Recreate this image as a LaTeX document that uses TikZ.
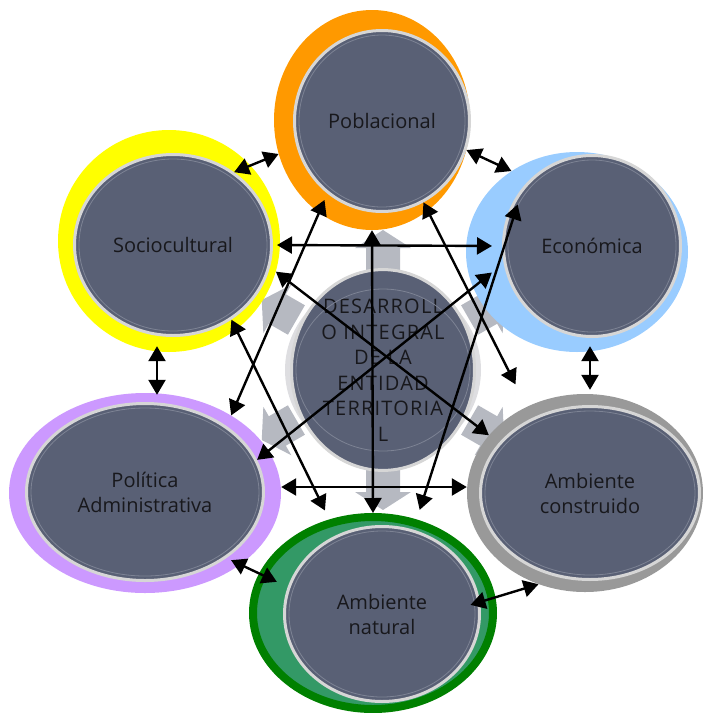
\documentclass[tikz,border=0pt]{standalone}
\usepackage{fontspec}
\setmainfont{Open Sans}
\newfontfamily\spacedfont{Open Sans}[LetterSpace=6]
\usetikzlibrary{positioning}
\usetikzlibrary{arrows.meta,shapes.geometric,calc}
\definecolor{slate}{HTML}{596075}
\definecolor{ringgray}{HTML}{D6D6D6}
\definecolor{thinline}{HTML}{7D8394}
\definecolor{halo}{HTML}{DEDEE1}
\definecolor{blockgray}{HTML}{B6B9C1}
\definecolor{txt}{HTML}{18181C}
\definecolor{orangeA}{HTML}{FF9900}
\definecolor{yellowA}{HTML}{FFFF00}
\definecolor{blueA}{HTML}{99CCFF}
\definecolor{purpleA}{HTML}{CC99FF}
\definecolor{grayA}{HTML}{999999}
\definecolor{greenA}{HTML}{339966}
\definecolor{greenB}{HTML}{008000}
\tikzset{
    >={Triangle[length=15pt,width=17pt]}, % solid triangular heads
    back/.style={ellipse, inner sep=0pt},
    area/.style={ellipse, inner sep=0pt, fill=slate, draw=ringgray, line width=3pt,
        align=center, text=txt, font=\fontsize{20}{25}\selectfont},
    inring/.style={draw=thinline, line width=0.8pt},
    link/.style={<->, line width=2.4pt},
}

\begin{document}
\begin{tikzpicture}[x=1pt,y=-1pt]
\useasboundingbox (0,0) rectangle (703,713);
% grey radial block arrows behind everything
\foreach \a in {30,90,150,210,270,330}
  \fill[blockgray, shift={(383,370)}, rotate=\a]
    (100,-17) -- (122,-17) -- (122,-28) -- (140,0) -- (122,28) -- (122,17) -- (100,17) -- cycle;
% coloured backs
\node[back, fill=orangeA, minimum width=196pt, minimum height=220pt] (pobbg) at (372,120) {};
\node[back, fill=yellowA, minimum width=222pt, minimum height=222pt] (socbg) at (169,241) {};
\node[back, fill=blueA, minimum width=222pt, minimum height=200pt] (ecobg) at (577,252) {};
\node[back, fill=purpleA, minimum width=272pt, minimum height=200pt] (polbg) at (145,493) {};
\node[back, fill=grayA, minimum width=236pt, minimum height=198pt] (conbg) at (585,493) {};
\node[back, fill=greenA, draw=greenB, line width=8pt, minimum width=240pt, minimum height=192pt] (natbg) at (373,613) {};
\node[back, fill=halo, minimum width=196pt, minimum height=184pt] (desbg) at (383,370) {};
% areas
\node[area, minimum width=175pt, minimum height=181pt] (pob) at (382,121) {Poblacional};
\node[area, minimum width=197pt, minimum height=181pt] (soc) at (173,245) {Sociocultural};
\node[area, minimum width=177pt, minimum height=181pt] (eco) at (592,246) {Económica};
\node[area, minimum width=237pt, minimum height=177pt] (pol) at (145,492) {Política\\Administrativa};
\node[area, minimum width=219pt, minimum height=173pt] (con) at (590,493) {Ambiente\\construido};
\node[area, minimum width=195pt, minimum height=175pt] (nat) at (382,614) {Ambiente\\natural};
\node[area, minimum width=183pt, minimum height=171pt, font=\spacedfont\fontsize{20}{25.5}\selectfont] (des) at (383,370)
  {DESARROLL\\O INTEGRAL\\DE LA\\ENTIDAD\\TERRITORIA\\L};
\foreach \n/\rx/\ry in {pob/83pt/86pt, soc/94pt/86pt, eco/84pt/86pt, pol/114pt/84pt,
                        con/105pt/82pt, nat/93pt/83pt, des/87pt/81pt}
  \draw[inring] (\n.center) ellipse [x radius=\rx, y radius=\ry];
% links between neighbours
\draw[link] (soc.50) -- (pobbg.200);
\draw[link] (pob.-19) -- (ecobg.129);
\draw[link, shorten <=-6pt, shorten >=4pt] (con |- ecobg.south) -- (con |- conbg.north);
\draw[link, shorten >=-10pt] (conbg.243) -- (nat.7);
\draw[link, shorten <=5pt, shorten >=12pt] (pol.-39) -- (nat.164.6);
\draw[link, shorten <=-6pt, shorten >=-2pt] ([xshift=-12pt]socbg.south) -- ([xshift=12pt]polbg.north);
% links across
\draw[link, shorten <=4pt, shorten >=10pt] (soc.east) -- (eco.west);
\draw[link] ([yshift=6pt]polbg.east) -- ([yshift=6pt]conbg.west);
\draw[link] (pobbg.south) -- (natbg.north);
\draw[link] (socbg.-16) -- (conbg.149);
\draw[link, shorten <=15pt] (eco.191) -- (pol.16);
\draw[link, shorten <=7pt] (pob.233) -- (polbg.42);
\draw[link, shorten >=10pt] (soc.-52) -- (natbg.115);
\draw[link, shorten >=25pt] (pob.-63) -- (conbg.124.5);
\draw[link, shorten <=19pt, shorten >=10pt] (eco.139) -- (natbg.65);
\end{tikzpicture}
\end{document}
